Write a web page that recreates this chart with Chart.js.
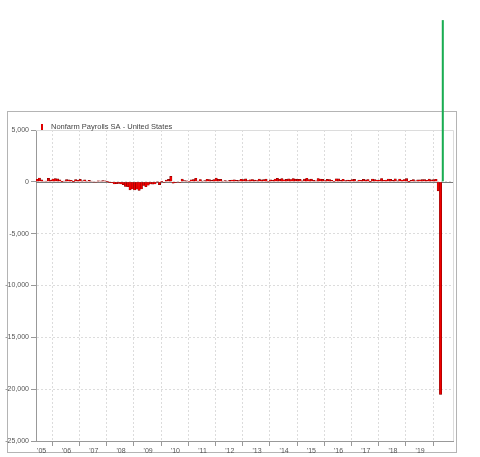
<!DOCTYPE html>
<html>
<head>
<meta charset="UTF-8">
<style>
 html, body { margin: 0; padding: 0; background: #fff; }
 #wrap { width: 480px; height: 457px; }
</style>
</head>
<body>
<div id="wrap"><canvas id="chart"></canvas></div>
<script src="https://cdn.jsdelivr.net/npm/chart.js@4.4.1/dist/chart.umd.min.js"></script>
<script>
// monthly change, thousands, Jun 2005 .. Sep 2020
const startYear = 2005
const startMonth = 5 // June (0 = Jan)
const y2005 = [246, 372, 193, 67, 84, 337, 159]
const y2006 = [277, 315, 280, 182, 23, 77, 207, 184, 157, 2, 210, 171]
const y2007 = [238, 88, 188, 78, 144, 71, -33, -16, 85, 82, 118, 97]
const y2008 = [19, -86, -78, -210, -185, -165, -209, -266, -452, -473, -769, -695]
const y2009 = [-791, -703, -823, -687, -349, -471, -329, -213, -220, -204, -2, -275]
const y2010 = [23, -68, 164, 243, 522, -133, -70, -34, -52, 262, 119, 87]
const y2011 = [43, 189, 225, 346, 77, 225, 69, 110, 248, 209, 141, 209]
const y2012 = [358, 237, 233, 78, 115, 76, 143, 177, 203, 146, 132, 244]
const y2013 = [211, 286, 130, 197, 226, 162, 122, 261, 190, 212, 258, 47]
const y2014 = [190, 151, 272, 329, 246, 304, 202, 230, 280, 227, 312, 255]
const y2015 = [234, 238, 86, 262, 344, 206, 254, 157, 100, 321, 272, 239]
const y2016 = [126, 237, 225, 153, 43, 297, 291, 135, 249, 124, 164, 155]
const y2017 = [216, 232, 50, 175, 155, 239, 190, 221, 18, 271, 216, 175]
const y2018 = [176, 324, 155, 175, 270, 235, 147, 282, 108, 277, 176, 227]
const y2019 = [312, 1, 147, 210, 85, 182, 194, 207, 208, 152, 261, 184]
const y2020 = [214, 251, -870, -20500, null, null, null, null, null]
const greenValue = 15600 // drawn at May 2020
const yearLabels = ["'05", "'06", "'07", "'08", "'09", "'10", "'11", "'12", "'13", "'14", "'15", "'16", "'17", "'18", "'19"]
const yTicks = [5000, 0, -5000, -10000, -15000, -20000, -25000]

const payrolls = [].concat(y2005, y2006, y2007, y2008, y2009, y2010, y2011, y2012,
 y2013, y2014, y2015, y2016, y2017, y2018, y2019, y2020)
const categories = payrolls.map((v, i) => {
 const m = startMonth + i
 return (startYear + Math.floor(m / 12)) + '-' + String(m % 12 + 1).padStart(2, '0')
})
const green = categories.map(c => c === '2020-05' ? greenValue : null)

const monthOf = i => (startMonth + i) % 12
const yearOf = i => startYear + Math.floor((startMonth + i) / 12)

const frame = {
 id: 'frame',
 beforeDraw(chart) {
  const ctx = chart.ctx
  ctx.save()
  ctx.fillStyle = '#fff'
  ctx.fillRect(0, 0, chart.width, chart.height)
  ctx.strokeStyle = '#b4b4b4'
  ctx.lineWidth = 1
  ctx.strokeRect(7.5, 111.5, 449, 341)
  ctx.restore()
 },
 beforeDatasetsDraw(chart) {
  const ctx = chart.ctx
  const a = chart.chartArea
  const xs = chart.scales.x
  const y0 = Math.round(chart.scales.y.getPixelForValue(0)) + 0.5
  ctx.save()
  ctx.lineWidth = 1
  // year boundaries: dashed grid on the plot, solid tick below the axis
  for (let i = 1; i < categories.length; i++) {
   if (monthOf(i) !== 0) continue
   const x = Math.round((xs.getPixelForValue(i - 1) + xs.getPixelForValue(i)) / 2) + 0.5
   ctx.strokeStyle = '#dcdcdc'
   ctx.setLineDash([2, 2])
   ctx.beginPath()
   ctx.moveTo(x, a.top)
   ctx.lineTo(x, a.bottom)
   ctx.stroke()
   ctx.strokeStyle = '#999'
   ctx.setLineDash([])
   ctx.beginPath()
   ctx.moveTo(x, a.bottom)
   ctx.lineTo(x, a.bottom + 5)
   ctx.stroke()
  }
  ctx.setLineDash([])
  ctx.strokeStyle = '#dcdcdc'
  ctx.beginPath()
  ctx.moveTo(a.left, Math.round(a.top) + 0.5)
  ctx.lineTo(Math.round(a.right) + 0.5, Math.round(a.top) + 0.5)
  ctx.lineTo(Math.round(a.right) + 0.5, a.bottom)
  ctx.stroke()
  ctx.strokeStyle = '#7a7a7a'
  ctx.beginPath()
  ctx.moveTo(a.left, y0)
  ctx.lineTo(a.right, y0)
  ctx.stroke()
  ctx.restore()
 },
 afterDraw(chart) {
  const ctx = chart.ctx
  ctx.save()
  ctx.fillStyle = '#e00000'
  ctx.fillRect(41, 124, 2, 6)
  ctx.fillStyle = '#444'
  ctx.font = '7.5px "Liberation Sans", Arial, sans-serif'
  ctx.textBaseline = 'middle'
  ctx.fillText('Nonfarm Payrolls SA - United States', 51, 127)
  ctx.restore()
 }
}

new Chart(document.getElementById('chart'), {
 type: 'bar',
 plugins: [frame],
 data: {
  labels: categories,
  datasets: [
   {
    label: 'Nonfarm Payrolls SA - United States',
    data: payrolls,
    backgroundColor: '#ee0000',
    borderColor: '#6a0000',
    borderWidth: 0.4,
    barPercentage: 1,
    categoryPercentage: 1,
    grouped: false
   },
   {
    label: 'green',
    data: green,
    backgroundColor: '#1aad52',
    borderWidth: 0,
    barPercentage: 1,
    categoryPercentage: 0.9,
    grouped: false,
    clip: false
   }
  ]
 },
 options: {
  responsive: true,
  maintainAspectRatio: false,
  animation: false,
  layout: { padding: { top: 130, right: 27, bottom: 0, left: 0 } },
  plugins: { legend: { display: false }, tooltip: { enabled: false } },
  scales: {
   x: {
    offset: true,
    grid: { display: true, drawOnChartArea: false, drawTicks: true, tickLength: 5, color: 'rgba(0,0,0,0)', tickColor: 'rgba(0,0,0,0)' },
    border: { display: true, color: '#999' },
    ticks: {
     autoSkip: false,
     maxRotation: 0,
     minRotation: 0,
     padding: 1,
     color: '#555',
     font: { size: 7, family: '"Liberation Sans", Arial, sans-serif' },
     callback: (v, i) => {
      const y = yearOf(i)
      const m = monthOf(i)
      if (y === 2005 && m === 7) return yearLabels[0]
      if (y > 2005 && y <= 2019 && m === 6) return yearLabels[y - 2005]
      return null
     }
    },
    afterFit: s => { s.height = 16 }
   },
   y: {
    min: -25000,
    max: 5000,
    afterBuildTicks: s => { s.ticks = yTicks.map(v => ({ value: v })) },
    grid: { color: '#dcdcdc', tickColor: '#999', tickLength: 5 },
    border: { color: '#999', dash: [2, 2] },
    ticks: {
     padding: 2,
     color: '#555',
     font: { size: 7, family: '"Liberation Sans", Arial, sans-serif' },
     callback: v => v.toLocaleString('en-US')
    },
    afterFit: s => { s.width = 36 }
   }
  }
 }
})
</script>
</body>
</html>
